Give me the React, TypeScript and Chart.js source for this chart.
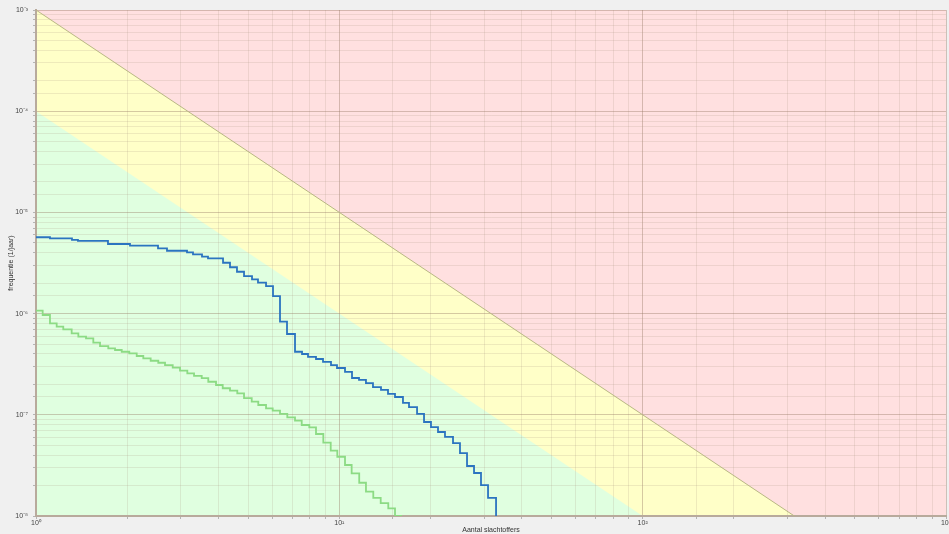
import React, { useEffect, useRef } from "react";
import { Chart, registerables } from "chart.js";

Chart.register(...registerables);

// Aantal slachtoffers (N) and frequentie (1/jaar) for the FN-curves
const blueN = [1, 1.112, 1.314, 1.375, 1.727, 2.041, 2.525, 2.703, 3.147, 3.293, 3.526, 3.69, 4.136, 4.361, 4.598, 4.851, 5.154, 5.393, 5.733, 6.044, 6.374, 6.722, 7.143, 7.534, 7.884, 8.377, 8.835, 9.387, 9.824, 10.44, 11.01, 11.61, 12.24, 12.91, 13.72, 14.47, 15.26, 16.21, 16.97, 18.04, 19.02, 20.05, 21.15, 22.3, 23.7, 24.99, 26.36, 27.8, 29.31, 30.92, 32.86];
const blueF = [5.68e-6, 5.55e-6, 5.34e-6, 5.22e-6, 4.87e-6, 4.69e-6, 4.42e-6, 4.18e-6, 4.03e-6, 3.85e-6, 3.65e-6, 3.52e-6, 3.18e-6, 2.87e-6, 2.59e-6, 2.35e-6, 2.18e-6, 2.02e-6, 1.87e-6, 1.49e-6, 8.32e-7, 6.29e-7, 4.2e-7, 3.99e-7, 3.73e-7, 3.56e-7, 3.33e-7, 3.1e-7, 2.9e-7, 2.65e-7, 2.31e-7, 2.21e-7, 2.06e-7, 1.88e-7, 1.76e-7, 1.61e-7, 1.5e-7, 1.31e-7, 1.19e-7, 1.02e-7, 8.49e-8, 7.57e-8, 6.76e-8, 6.04e-8, 5.26e-8, 4.19e-8, 3.12e-8, 2.66e-8, 2.02e-8, 1.51e-8, 1e-8];

const greenN = [1, 1.052, 1.112, 1.17, 1.23, 1.311, 1.379, 1.462, 1.545, 1.626, 1.731, 1.822, 1.917, 2.03, 2.148, 2.258, 2.388, 2.53, 2.663, 2.823, 2.984, 3.154, 3.319, 3.518, 3.698, 3.922, 4.126, 4.361, 4.609, 4.851, 5.142, 5.405, 5.733, 6.03, 6.374, 6.737, 7.143, 7.516, 7.962, 8.377, 8.855, 9.367, 9.847, 10.44, 10.98, 11.63, 12.24, 12.94, 13.69, 14.5, 15.26, 16.1];
const greenF = [1.07e-6, 9.69e-7, 8.02e-7, 7.43e-7, 7.0e-7, 6.39e-7, 5.91e-7, 5.7e-7, 5.16e-7, 4.78e-7, 4.54e-7, 4.37e-7, 4.2e-7, 4.05e-7, 3.81e-7, 3.61e-7, 3.42e-7, 3.27e-7, 3.1e-7, 2.92e-7, 2.73e-7, 2.57e-7, 2.42e-7, 2.3e-7, 2.12e-7, 1.97e-7, 1.83e-7, 1.73e-7, 1.63e-7, 1.46e-7, 1.35e-7, 1.25e-7, 1.16e-7, 1.1e-7, 1.02e-7, 9.44e-8, 8.74e-8, 7.93e-8, 7.52e-8, 6.46e-8, 5.3e-8, 4.42e-8, 3.85e-8, 3.19e-8, 2.64e-8, 2.13e-8, 1.74e-8, 1.51e-8, 1.34e-8, 1.19e-8, 1e-8, 1e-8];

// Norm lines (boundaries between zones)
const upperLimitN = [1, 1000];
const upperLimitF = [1e-3, 1e-9];
const lowerLimitN = [1, 100];
const lowerLimitF = [1e-4, 1e-8];

const xRange = [1, 1000];
const yRange = [1e-8, 1e-3];

const xTitle = "Aantal slachtoffers";
const yTitle = "frequentie (1/jaar)";

const SUP: Record<string, string> = { "0": "⁰", "1": "¹", "2": "²", "3": "³", "4": "⁴", "5": "⁵", "6": "⁶", "7": "⁷", "8": "⁸", "9": "⁹", "-": "⁻" };
const isPow10 = (v: number) => Math.abs(Math.log10(v) - Math.round(Math.log10(v))) < 1e-6;
const powLabel = (v: number) => {
  if (!isPow10(v)) return "";
  const e = String(Math.round(Math.log10(v)));
  return "10" + e.split("").map((c) => SUP[c] || c).join("");
};

const pts = (xs: number[], ys: number[]) => xs.map((x, i) => ({ x, y: ys[i] }));

const zonesPlugin = {
  id: "zones",
  beforeDraw(chart: any) {
    const { ctx, chartArea, scales } = chart;
    const sx = scales.x;
    const sy = scales.y;
    ctx.save();
    ctx.fillStyle = "#f0f0f0";
    ctx.fillRect(0, 0, chart.width, chart.height);
    ctx.beginPath();
    ctx.rect(chartArea.left, chartArea.top, chartArea.right - chartArea.left, chartArea.bottom - chartArea.top);
    ctx.clip();
    ctx.fillStyle = "#ffe0e0";
    ctx.fillRect(chartArea.left, chartArea.top, chartArea.right - chartArea.left, chartArea.bottom - chartArea.top);
    const poly = (xs: number[], ys: number[], color: string) => {
      ctx.beginPath();
      ctx.moveTo(sx.getPixelForValue(xs[0]), chartArea.bottom + 50);
      for (let i = 0; i < xs.length; i++) {
        ctx.lineTo(sx.getPixelForValue(xs[i]), sy.getPixelForValue(ys[i]));
      }
      ctx.lineTo(sx.getPixelForValue(xs[xs.length - 1]), chartArea.bottom + 50);
      ctx.closePath();
      ctx.fillStyle = color;
      ctx.fill();
    };
    poly(upperLimitN, upperLimitF, "#ffffc8");
    poly(lowerLimitN, lowerLimitF, "#e0ffe0");
    ctx.restore();
  },
};

export default function App() {
  const ref = useRef<HTMLCanvasElement | null>(null);
  useEffect(() => {
    if (!ref.current) return;
    const font = { family: "'Liberation Sans', Arial, sans-serif", size: 7 };
    const gridColor = (c: any) =>
      c.tick && isPow10(c.tick.value) ? "rgba(150,120,100,0.40)" : "rgba(170,150,130,0.20)";
    const chart = new Chart(ref.current, {
      type: "line",
      data: {
        datasets: [
          {
            data: pts(upperLimitN, upperLimitF),
            borderColor: "#b9b784",
            borderWidth: 1,
            pointRadius: 0,
            fill: false,
          },
          {
            data: pts(greenN, greenF),
            borderColor: "#8cdb84",
            borderWidth: 1.8,
            pointRadius: 0,
            stepped: "before",
            fill: false,
          },
          {
            data: pts(blueN, blueF),
            borderColor: "#2b74c0",
            borderWidth: 1.8,
            pointRadius: 0,
            stepped: "before",
            fill: false,
          },
        ],
      },
      options: {
        animation: false,
        responsive: false,
        events: [],
        layout: { padding: { top: 10, right: 0, left: 0, bottom: 0 } },
        plugins: { legend: { display: false }, tooltip: { enabled: false } },
        scales: {
          x: {
            type: "logarithmic",
            min: xRange[0],
            max: xRange[1],
            afterFit: (s: any) => {
              s.height = 18;
              s.paddingRight = 3;
            },
            grid: { color: gridColor, tickLength: 3, tickColor: "rgba(140,140,140,0.6)" },
            border: { color: "#b8aa9c", width: 2 },
            ticks: {
              autoSkip: false,
              maxRotation: 0,
              padding: 0,
              font,
              color: "#444",
              callback: (v: any) => powLabel(Number(v)),
            },
            title: { display: true, text: xTitle, font, color: "#333", padding: { top: 0, bottom: 0 } },
          },
          y: {
            type: "logarithmic",
            min: yRange[0],
            max: yRange[1],
            afterFit: (s: any) => {
              s.width = 36;
            },
            grid: { color: gridColor, tickLength: 3, tickColor: "rgba(140,140,140,0.6)" },
            border: { color: "#b8aa9c", width: 2 },
            ticks: {
              autoSkip: false,
              padding: 5,
              font,
              color: "#444",
              callback: (v: any) => powLabel(Number(v)),
            },
            title: { display: true, text: yTitle, font, color: "#333", padding: { top: 7, bottom: 0 } },
          },
        },
      } as any,
      plugins: [zonesPlugin],
    });
    return () => chart.destroy();
  }, []);
  return (
    <div style={{ position: "fixed", left: 0, top: 0, width: 949, height: 534, background: "#f0f0f0" }}>
      <canvas ref={ref} width={949} height={534} style={{ display: "block" }} />
    </div>
  );
}
